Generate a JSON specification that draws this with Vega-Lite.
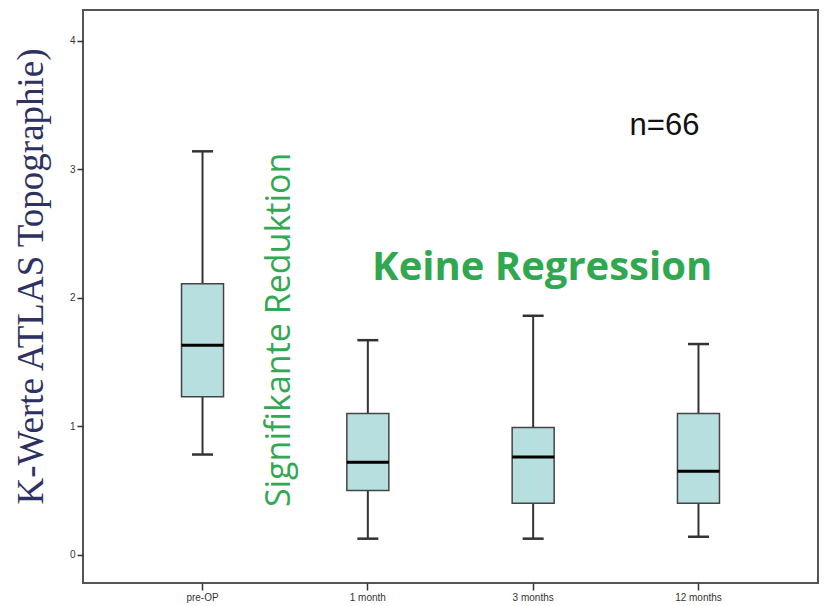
{
  "$schema": "https://vega.github.io/schema/vega-lite/v6.json",
  "width": 735,
  "height": 573,
  "autosize": {"type": "none"},
  "padding": {"left": 83, "top": 10, "right": 11, "bottom": 23},
  "background": "white",
  "config": {
    "view": {"stroke": "#555555", "strokeWidth": 2},
    "axis": {"labelFont": "Liberation Sans", "labelFontSize": 10, "labelColor": "#333333", "tickColor": "#333333", "tickWidth": 1.5, "grid": false, "domain": false}
  },
  "datasets": {
    "boxes": [
      {"period": "pre-OP", "min": 0.78, "q1": 1.23, "median": 1.63, "q3": 2.11, "max": 3.14},
      {"period": "1 month", "min": 0.125, "q1": 0.50, "median": 0.72, "q3": 1.10, "max": 1.67},
      {"period": "3 months", "min": 0.125, "q1": 0.40, "median": 0.76, "q3": 0.99, "max": 1.86},
      {"period": "12 months", "min": 0.14, "q1": 0.40, "median": 0.65, "q3": 1.10, "max": 1.64}
    ],
    "notes": [
      {"label": "n=66", "period": "12 months", "value": 3.34}
    ]
  },
  "data": {"name": "boxes"},
  "encoding": {
    "x": {
      "field": "period", "type": "nominal",
      "sort": ["pre-OP", "1 month", "3 months", "12 months"],
      "scale": {"paddingInner": 0, "paddingOuter": 0.223},
      "axis": {"title": null, "labelAngle": 0, "tickSize": 7, "labelPadding": 2, "bandPosition": 0.5}
    }
  },
  "layer": [
    {
      "mark": {"type": "rule", "color": "#333333", "strokeWidth": 2},
      "encoding": {
        "y": {"field": "min", "type": "quantitative",
          "scale": {"domain": [-0.22, 4.24], "nice": false, "zero": false},
          "axis": {
            "values": [0, 1, 2, 3, 4], "format": "d", "tickSize": 6, "labelPadding": 2,
            "title": "K-Werte ATLAS Topographie)",
            "titleFont": "Liberation Serif", "titleFontSize": 37, "titleFontWeight": "normal",
            "titleColor": "#2e3262", "titleX": -52, "titleY": 266, "titleBaseline": "middle", "titleAngle": -90
          }},
        "y2": {"field": "max"}
      }
    },
    {
      "mark": {"type": "bar", "size": 42, "fill": "#b8dfdf", "stroke": "#444444", "strokeWidth": 1.5},
      "encoding": {
        "y": {"field": "q1", "type": "quantitative"},
        "y2": {"field": "q3"}
      }
    },
    {
      "mark": {"type": "tick", "size": 42, "thickness": 3, "color": "#000000", "opacity": 1, "orient": "horizontal"},
      "encoding": {"y": {"field": "median", "type": "quantitative"}}
    },
    {
      "mark": {"type": "tick", "size": 21, "thickness": 2.5, "color": "#333333", "opacity": 1, "orient": "horizontal"},
      "encoding": {"y": {"field": "min", "type": "quantitative"}}
    },
    {
      "mark": {"type": "tick", "size": 21, "thickness": 2.5, "color": "#333333", "opacity": 1, "orient": "horizontal"},
      "encoding": {"y": {"field": "max", "type": "quantitative"}}
    },
    {
      "data": {"values": [{"label": "Signifikante Reduktion", "period": "pre-OP", "value": 1.75}]},
      "mark": {"type": "text", "font": "Open Sans", "fontSize": 34, "color": "#33a852", "angle": 270, "dy": 77, "align": "center", "baseline": "middle"},
      "encoding": {"y": {"field": "value", "type": "quantitative"}, "text": {"field": "label"}}
    },
    {
      "data": {"values": [{"label": "Keine Regression", "period": "3 months", "value": 2.23}]},
      "mark": {"type": "text", "font": "Open Sans", "fontSize": 40, "fontWeight": "bold", "color": "#2fa84f", "dx": 9, "align": "center", "baseline": "middle"},
      "encoding": {"y": {"field": "value", "type": "quantitative"}, "text": {"field": "label"}}
    },
    {
      "data": {"name": "notes"},
      "mark": {"type": "text", "font": "Liberation Sans", "fontSize": 31, "color": "#111111", "dx": -34, "align": "center", "baseline": "middle"},
      "encoding": {"y": {"field": "value", "type": "quantitative"}, "text": {"field": "label"}}
    }
  ]
}
